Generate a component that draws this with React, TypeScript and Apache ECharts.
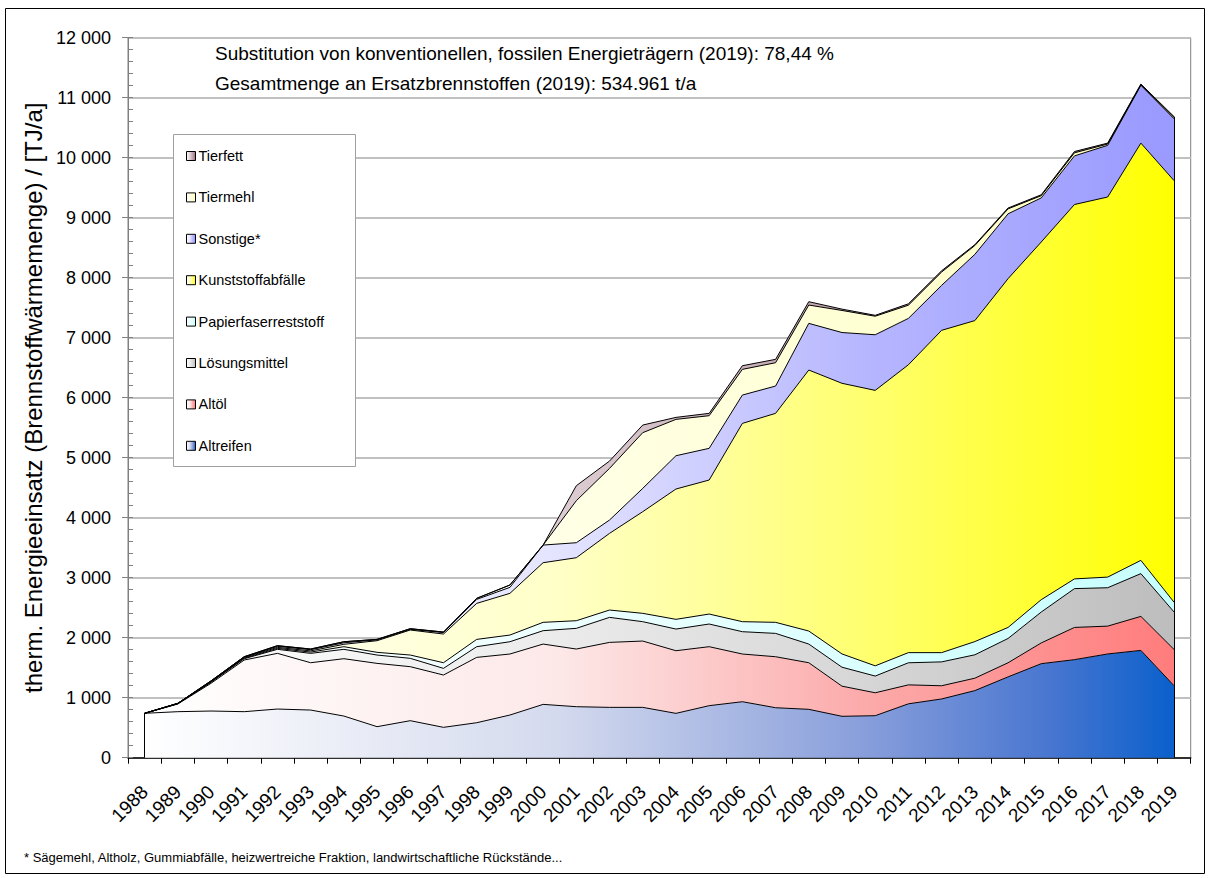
import React, { useEffect, useRef } from "react";
import * as echarts from "echarts";

const years = [
  "1988", "1989", "1990", "1991", "1992", "1993", "1994", "1995", "1996", "1997", "1998",
  "1999", "2000", "2001", "2002", "2003", "2004", "2005", "2006", "2007", "2008", "2009",
  "2010", "2011", "2012", "2013", "2014", "2015", "2016", "2017", "2018", "2019",
];

const altreifen = [740, 767, 778, 767, 811, 794, 694, 517, 617, 506, 583, 711, 889, 850, 839, 839, 739, 867, 933, 833, 806, 690, 700, 898, 979, 1118, 1347, 1567, 1634, 1729, 1788, 1199];
const altoel = [0, 128, 462, 861, 928, 789, 956, 1055, 900, 872, 1089, 1017, 1005, 961, 1083, 1105, 1044, 983, 795, 850, 777, 502, 382, 316, 220, 207, 235, 346, 537, 464, 567, 604];
const loesungsmittel = [0, 5, 18, 22, 67, 156, 156, 139, 139, 111, 178, 205, 223, 345, 417, 323, 361, 378, 372, 389, 311, 316, 279, 368, 398, 390, 405, 515, 647, 640, 713, 625];
const papierfaser = [0, 2, 6, 10, 16, 21, 44, 45, 55, 94, 122, 111, 139, 127, 122, 139, 162, 166, 167, 184, 217, 221, 170, 169, 154, 220, 184, 206, 162, 177, 221, 162];
const kunststoff = [0, 2, 8, 12, 16, 20, 40, 194, 417, 478, 600, 695, 994, 1050, 1278, 1694, 2172, 2234, 3305, 3483, 4350, 4511, 4591, 4798, 5372, 5350, 5813, 5961, 6240, 6335, 6954, 7027];
const sonstige = [0, 2, 6, 8, 17, 20, 25, 15, 12, 24, 67, 100, 294, 250, 222, 389, 555, 528, 472, 455, 778, 846, 927, 773, 750, 1104, 1081, 735, 810, 861, 964, 1031];
const tiermehl = [0, 0, 2, 3, 12, 11, 18, 7, 10, 9, 17, 39, 0, 700, 861, 928, 606, 544, 428, 389, 305, 368, 309, 220, 221, 147, 82, 37, 51, 22, 7, 22];
const tierfett = [0, 0, 0, 0, 0, 0, 0, 0, 0, 0, 0, 0, 0, 250, 122, 127, 33, 39, 61, 56, 56, 22, 15, 23, 22, 14, 14, 15, 22, 15, 14, 14];

const seriesNames = ["Altreifen", "Altöl", "Lösungsmittel", "Papierfaserreststoff", "Kunststoffabfälle", "Sonstige*", "Tiermehl", "Tierfett"];
const seriesData = [altreifen, altoel, loesungsmittel, papierfaser, kunststoff, sonstige, tiermehl, tierfett];
const legendOrder = ["Tierfett", "Tiermehl", "Sonstige*", "Kunststoffabfälle", "Papierfaserreststoff", "Lösungsmittel", "Altöl", "Altreifen"];

const gradientStops: [number, string][][] = [
  [[0, "#ffffff"], [0.4, "#d4daee"], [0.7, "#889edb"], [0.88, "#4876d0"], [1, "#0a60cc"]],
  [[0, "#ffffff"], [0.4, "#fde8e8"], [0.7, "#fcaaaa"], [1, "#ff7c7c"]],
  [[0, "#ffffff"], [0.4, "#ebebeb"], [0.7, "#d6d6d6"], [1, "#bdbdbd"]],
  [[0, "#ffffff"], [0.5, "#e8ffff"], [1, "#c6ffff"]],
  [[0, "#ffffff"], [0.4, "#ffffc8"], [0.7, "#ffff70"], [1, "#ffff00"]],
  [[0, "#ffffff"], [0.4, "#e4e4ff"], [0.7, "#b6b6ff"], [1, "#9999ff"]],
  [[0, "#ffffff"], [0.5, "#ffffe0"], [1, "#ffffc0"]],
  [[0, "#ffffff"], [0.45, "#d8c6cc"], [1, "#a07080"]],
];

const titleLine1 = "Substitution von konventionellen, fossilen Energieträgern (2019): 78,44 %";
const titleLine2 = "Gesamtmenge an Ersatzbrennstoffen (2019): 534.961 t/a";
const footnote = "* Sägemehl, Altholz, Gummiabfälle, heizwertreiche Fraktion, landwirtschaftliche Rückstände...";
const yAxisTitle = "therm. Energieeinsatz (Brennstoffwärmemenge) / [TJ/a]";

const FONT = "'Liberation Sans', Arial, sans-serif";

function grad(stops: [number, string][]) {
  return new echarts.graphic.LinearGradient(0, 0, 1, 0, stops.map(([o, c]) => ({ offset: o, color: c })));
}

export default function App() {
  const ref = useRef<HTMLDivElement>(null);
  useEffect(() => {
    if (!ref.current) return;
    const chart = echarts.init(ref.current, null, { renderer: "svg" });
    const last = years.length - 1;
    const total0 = seriesData.reduce((s, arr) => s + arr[0], 0);
    const totalLast = seriesData.reduce((s, arr) => s + arr[last], 0);

    const series = seriesNames.map((name, i) => ({
      name,
      type: "line",
      stack: "total",
      data: seriesData[i],
      symbol: "none",
      showSymbol: false,
      itemStyle: { color: grad(gradientStops[i]), borderColor: "#000", borderWidth: 1 },
      lineStyle: { color: "#000", width: 1 },
      areaStyle: { color: grad(gradientStops[i]), opacity: 1 },
      z: 2,
      markLine:
        i === 0
          ? {
              silent: true,
              symbol: "none",
              label: { show: false },
              lineStyle: { color: "#000", width: 1, type: "solid" },
              data: [
                [{ coord: [0, 0] }, { coord: [0, total0] }],
                [{ coord: [last, 0] }, { coord: [last, totalLast] }],
              ],
            }
          : undefined,
    }));

    chart.setOption({
      animation: false,
      backgroundColor: "#ffffff",
      textStyle: { fontFamily: FONT },
      title: [
        { text: titleLine1, left: 215, top: 44, padding: 0, textStyle: { fontSize: 19, fontWeight: "normal", color: "#000", fontFamily: FONT } },
        { text: titleLine2, left: 215, top: 74, padding: 0, textStyle: { fontSize: 19, fontWeight: "normal", color: "#000", fontFamily: FONT } },
        { text: footnote, left: 24, top: 851, padding: 0, textStyle: { fontSize: 13, fontWeight: "normal", color: "#000", fontFamily: FONT } },
      ],
      grid: {
        left: 128,
        right: 20.3,
        top: 37.7,
        bottom: 120.3,
        show: true,
        borderColor: "#808080",
        borderWidth: 1,
        backgroundColor: "transparent",
      },
      legend: {
        data: legendOrder,
        orient: "vertical",
        left: 186,
        top: 148,
        icon: "rect",
        itemWidth: 9,
        itemHeight: 9,
        itemGap: 25.4,
        padding: 0,
        itemStyle: { borderColor: "#000", borderWidth: 1 },
        textStyle: { fontSize: 14.5, color: "#000", fontFamily: FONT, lineHeight: 16, padding: [0, 0, 0, -2] },
        selectedMode: false,
        z: 5,
      },
      graphic: [
        {
          type: "rect",
          z: 3,
          shape: { x: 173.5, y: 134.5, width: 182, height: 332 },
          style: { fill: "#ffffff", stroke: "#a0a0a0", lineWidth: 1 },
        },
        {
          type: "rect",
          z: 0,
          silent: true,
          shape: { x: 5.5, y: 8.5, width: 1199, height: 865 },
          style: { fill: "none", stroke: "#000", lineWidth: 1 },
        },
      ],
      xAxis: {
        type: "category",
        data: years,
        boundaryGap: true,
        axisLine: { lineStyle: { color: "#000", width: 1.5 } },
        axisTick: { show: true, length: 6, lineStyle: { color: "#000" } },
        axisLabel: { rotate: 45, interval: 0, fontSize: 19, color: "#000", margin: 31, fontFamily: FONT },
        splitLine: { show: false },
      },
      yAxis: [
        {
          type: "value",
          min: 0,
          max: 12000,
          interval: 1000,
          name: yAxisTitle,
          nameLocation: "middle",
          nameGap: 74,
          nameTextStyle: { fontSize: 24, color: "#000", fontFamily: FONT },
          axisLine: { show: true, lineStyle: { color: "#808080" } },
          axisTick: { show: true, length: 6, lineStyle: { color: "#808080" } },
          axisLabel: {
            fontSize: 18,
            color: "#000",
            margin: 17,
            fontFamily: FONT,
            formatter: (v: number) => (v >= 1000 ? `${Math.floor(v / 1000)} 000` : String(v)),
          },
          splitLine: { show: true, lineStyle: { color: "#c0c0c0", width: 2 } },
        },
        {
          type: "value",
          min: 0,
          max: 12000,
          interval: 200,
          position: "left",
          axisLine: { show: false },
          axisTick: { show: true, inside: true, length: 5, lineStyle: { color: "#808080" } },
          axisLabel: { show: false },
          splitLine: { show: false },
        },
      ],
      series,
    });
    return () => chart.dispose();
  }, []);
  return <div ref={ref} style={{ position: "fixed", left: 0, top: 0, width: 1211, height: 878 }} />;
}
